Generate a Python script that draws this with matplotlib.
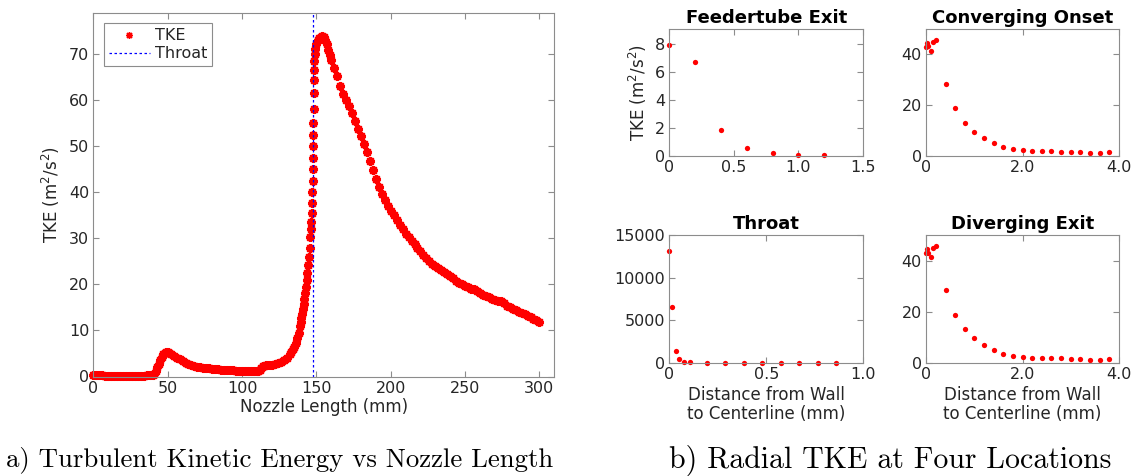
import numpy as np
import matplotlib
matplotlib.use('Agg')
import matplotlib.pyplot as plt

# ---- (a) TKE along the nozzle ----
nozzle_x = [0, 2, 4, 6, 8, 10, 12, 14, 16, 18, 20, 22, 24, 26, 28, 30, 32, 34, 36, 38, 40,
            41, 42, 43, 44, 45, 46, 47, 48, 49, 50, 51, 52, 54, 56, 58, 60, 62, 64, 66, 68,
            70, 72, 74, 76, 78, 80, 82, 84, 86, 88, 90, 92, 94, 96, 98, 100, 102, 104, 106,
            108, 110, 111, 112, 113, 114, 115, 116, 118, 120, 122, 124, 126, 128, 130, 132,
            133, 134, 135, 136, 137, 138, 139, 139.5, 140, 140.5, 141, 141.5, 142, 142.5,
            143, 143.5, 144, 144.5, 145, 145.5, 146, 146.3, 146.6, 146.9, 147.1, 147.3,
            147.5, 147.6, 147.7, 147.8, 147.9, 148.0, 148.1, 148.2, 148.3, 148.4, 148.6,
            148.9, 149.3, 150, 151, 152, 153, 154, 155, 156, 157, 158, 159, 160, 162, 164,
            166, 168, 170, 172, 174, 176, 178, 180, 182, 184, 186, 188, 190, 192, 194, 196,
            198, 200, 202, 204, 206, 208, 210, 212, 214, 216, 218, 220, 222, 224, 226, 228,
            230, 232, 234, 236, 238, 240, 242, 244, 246, 248, 250, 252, 254, 256, 258, 260,
            262, 264, 266, 268, 270, 272, 274, 276, 278, 280, 282, 284, 286, 288, 290, 292,
            294, 296, 298, 300]
nozzle_tke = [0.3, 0.28, 0.25, 0.22, 0.2, 0.2, 0.2, 0.2, 0.2, 0.2, 0.2, 0.2, 0.2, 0.2, 0.2,
              0.2, 0.2, 0.2, 0.22, 0.25, 0.3,
              0.5, 1.2, 2.0, 2.8, 3.6, 4.3, 4.8, 5.1, 5.3, 5.3, 5.1, 4.9, 4.5, 4.1, 3.7, 3.3,
              3.0, 2.7, 2.5, 2.3, 2.15, 2.0, 1.9, 1.8, 1.75, 1.7, 1.6, 1.55, 1.5, 1.45, 1.4,
              1.38, 1.35, 1.3, 1.28, 1.25, 1.22, 1.2, 1.18, 1.15, 1.15, 1.2, 1.5, 1.9, 2.2,
              2.35, 2.4, 2.5, 2.6, 2.7, 2.9, 3.2, 3.6, 4.1, 4.8, 5.3, 5.9, 6.5, 7.3, 8.3, 9.5,
              11.0, 11.8, 12.7, 13.6, 14.6, 15.7, 16.8, 18.1, 19.5, 21.0, 22.5, 24.2, 26.0,
              28.0, 30.3, 32.0, 33.6, 35.5, 37.6, 40.0, 42.5, 45.0, 47.5, 50.0, 52.4, 55.0,
              58.1, 61.5, 64.4, 66.5, 68.5, 70.0, 71.2, 72.2, 73.0, 73.5, 73.8, 73.9, 73.7,
              73.2, 72.2, 71.0, 69.8, 68.8, 67.0, 65.3, 63.0, 61.3, 60.0, 58.7, 57.3, 55.5,
              53.8, 52.2, 50.5, 48.8, 46.8, 44.8, 42.8, 41.2, 39.7, 38.4, 37.1, 36.0, 35.0,
              34.0, 33.0, 32.0, 31.0, 30.2, 29.5, 28.8, 28.0, 27.2, 26.5, 25.8, 25.1, 24.5,
              24.0, 23.5, 23.1, 22.7, 22.3, 21.8, 21.3, 20.8, 20.3, 20.0, 19.7, 19.4, 19.1,
              18.9, 18.6, 18.2, 17.8, 17.5, 17.2, 16.9, 16.7, 16.5, 16.3, 15.9, 15.4, 15.0,
              14.7, 14.4, 14.1, 13.8, 13.5, 13.2, 12.9, 12.5, 12.2, 11.9]
throat_x = 148

# ---- (b) radial profiles ----
feeder_r = [0, 0.2, 0.4, 0.6, 0.8, 1.0, 1.2]
feeder_tke = [7.95, 6.7, 1.84, 0.57, 0.2, 0.07, 0.02]

conv_r = [0.0, 0.02, 0.05, 0.1, 0.15, 0.2, 0.41, 0.6, 0.8, 1.0, 1.2, 1.4, 1.6, 1.8, 2.0,
          2.2, 2.4, 2.6, 2.8, 3.0, 3.2, 3.4, 3.6, 3.8]
conv_tke = [43.0, 44.5, 43.2, 41.5, 45.0, 45.8, 28.4, 18.7, 13.0, 9.5, 7.0, 4.9, 3.4, 2.6,
            2.1, 1.85, 1.7, 1.7, 1.6, 1.45, 1.3, 1.2, 1.2, 1.3]

throat_r = [0.0, 0.012, 0.032, 0.05, 0.073, 0.105, 0.194, 0.288, 0.384, 0.48, 0.574, 0.67,
            0.766, 0.861]
throat_tke = [13100, 6580, 1410, 390, 120, 30, 10, 10, 10, 10, 10, 10, 10, 10]

div_r = [0.0, 0.02, 0.05, 0.1, 0.15, 0.2, 0.41, 0.6, 0.8, 1.0, 1.2, 1.4, 1.6, 1.8, 2.0,
         2.2, 2.4, 2.6, 2.8, 3.0, 3.2, 3.4, 3.6, 3.8]
div_tke = [43.1, 44.6, 43.0, 41.3, 44.9, 45.8, 28.3, 18.6, 13.1, 9.6, 6.8, 4.9, 3.5, 2.75,
           2.2, 1.95, 1.8, 1.75, 1.65, 1.5, 1.35, 1.25, 1.25, 1.35]

TXT = '#262626'
SPINE = '#8c8c8c'
FS = 11.5

plt.rcParams['font.family'] = 'DejaVu Sans'
W, H = 1139, 476
fig = plt.figure(figsize=(W / 100, H / 100), dpi=100)


def axes_px(left, top, right, bottom):
    return fig.add_axes([left / W, 1 - bottom / H, (right - left) / W, (bottom - top) / H])


def style(ax):
    for s in ax.spines.values():
        s.set_color(SPINE)
        s.set_linewidth(0.8)
    ax.tick_params(direction='in', top=True, right=True, length=4, width=0.8,
                   color=SPINE, labelcolor=TXT, labelsize=FS, pad=3)


# main plot
ax = axes_px(93.3, 13.3, 554.3, 376.5)
ax.plot(nozzle_x, nozzle_tke, linestyle='none', marker=(8, 2, 0), color='red', ms=6.5,
        mew=1.6, label='TKE', clip_on=False)
ax.axvline(throat_x, color='blue', linestyle=(0, (2, 2)), lw=0.9, label='Throat')
ax.set_xlim(0, 310)
ax.set_ylim(0, 78.9)
ax.set_xticks(range(0, 301, 50))
ax.set_yticks(range(0, 71, 10))
style(ax)
ax.set_xlabel('Nozzle Length (mm)', fontsize=12, color=TXT, labelpad=2)
ax.set_ylabel('TKE (m$^2$/s$^2$)', fontsize=12, color=TXT, labelpad=5)
leg = ax.legend(loc='upper left', bbox_to_anchor=(0.023, 0.972), borderaxespad=0,
                fontsize=11.5, fancybox=False, framealpha=1, edgecolor=SPINE,
                handlelength=2.6, borderpad=0.3, labelspacing=0.2, handletextpad=0.3)
leg.get_frame().set_linewidth(0.8)
leg.legend_handles[0].set_markersize(5)
leg.legend_handles[0].set_markeredgewidth(1.0)
for t in leg.get_texts():
    t.set_color(TXT)

# radial subplots
panels = [
    ((669.4, 29, 863, 155.7), feeder_r, feeder_tke, 'Feedertube Exit', (0, 1.5), (0, 9.1),
     [0, 0.5, 1.0, 1.5], ['0', '0.5', '1.0', '1.5'], [0, 2, 4, 6, 8]),
    ((925.9, 29, 1119.1, 155.7), conv_r, conv_tke, 'Converging Onset', (0, 4), (0, 50),
     [0, 2, 4], ['0', '2.0', '4.0'], [0, 20, 40]),
    ((669.4, 235, 863, 362.7), throat_r, throat_tke, 'Throat', (0, 1), (0, 15000),
     [0, 0.5, 1.0], ['0', '0.5', '1.0'], [0, 5000, 10000, 15000]),
    ((925.9, 235, 1119.1, 362.7), div_r, div_tke, 'Diverging Exit', (0, 4), (0, 50),
     [0, 2, 4], ['0', '2.0', '4.0'], [0, 20, 40]),
]
for i, (box, r, k, title, xl, yl, xt, xtl, yt) in enumerate(panels):
    a = axes_px(*box)
    a.plot(r, k, linestyle='none', marker='o', color='red', ms=3.8, mew=0, clip_on=False)
    a.set_xlim(*xl)
    a.set_ylim(*yl)
    a.set_xticks(xt)
    a.set_xticklabels(xtl)
    a.set_yticks(yt)
    style(a)
    a.set_title(title, fontsize=13, fontweight='bold', color='black', pad=4)
    if i == 0:
        a.set_ylabel('TKE (m$^2$/s$^2$)', fontsize=12, color=TXT, labelpad=4)
    if i >= 2:
        a.set_xlabel('Distance from Wall\nto Centerline (mm)', fontsize=12, color=TXT,
                     labelpad=3, linespacing=1.1)

# captions
fig.text(280 / W, 1 - 460 / H, 'a) Turbulent Kinetic Energy vs Nozzle Length',
         fontfamily='cmr10', fontsize=19.3, ha='center', va='center', color='black')
fig.text(890 / W, 1 - 460 / H, 'b) Radial TKE at Four Locations',
         fontfamily='cmr10', fontsize=21.5, ha='center', va='center', color='black')

fig.savefig('out.png', dpi=100)
